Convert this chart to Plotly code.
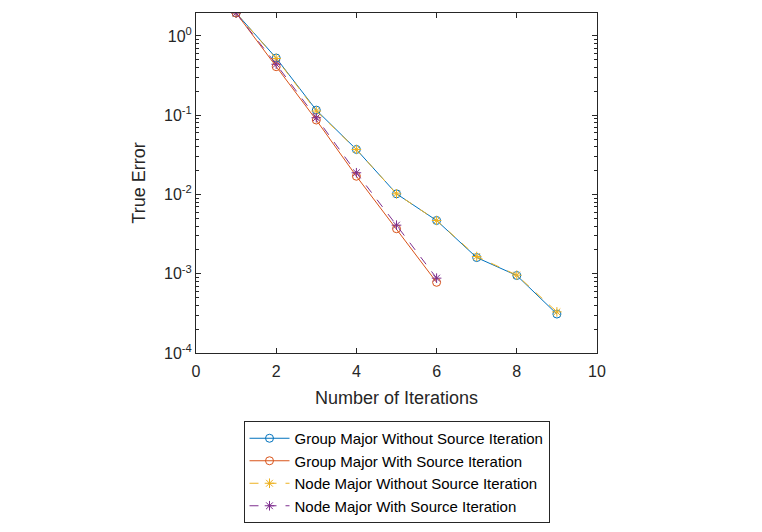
import plotly.graph_objects as go

iters_long = [1, 2, 3, 4, 5, 6, 7, 8, 9]
iters_short = [1, 2, 3, 4, 5, 6]

group_without = [1.95, 0.527, 0.116, 0.037, 0.0102, 0.0047, 0.0016, 0.00095, 0.00031]
group_with = [1.95, 0.41, 0.087, 0.017, 0.0037, 0.00078]
node_without = [1.95, 0.52, 0.113, 0.037, 0.0102, 0.0047, 0.00165, 0.00096, 0.00033]
node_with = [1.95, 0.44, 0.093, 0.0188, 0.0041, 0.00088]

names = ["Group Major Without Source Iteration", "Group Major With Source Iteration",
         "Node Major Without Source Iteration", "Node Major With Source Iteration"]
colors = ["#0072BD", "#D95319", "#EDB120", "#7E2F8E"]

y_tickvals = [1e-4, 1e-3, 1e-2, 1e-1, 1e0]
y_ticktext = ["10<sup>-4</sup>", "10<sup>-3</sup>", "10<sup>-2</sup>", "10<sup>-1</sup>", "10<sup>0</sup>"]
x_tickvals = [0, 2, 4, 6, 8, 10]

FONT = "Liberation Sans, Arial"

fig = go.Figure()
series = [
    (iters_long, group_without, "circle-open", "solid"),
    (iters_short, group_with, "circle-open", "solid"),
    (iters_long, node_without, "asterisk-open", "dash"),
    (iters_short, node_with, "asterisk-open", "dash"),
]
for (xs, ys, sym, dash), name, c in zip(series, names, colors):
    fig.add_trace(go.Scatter(
        x=xs, y=ys, name=name, mode="lines+markers",
        line=dict(color=c, width=1, dash=dash),
        marker=dict(symbol=sym, size=8, color=c, line=dict(color=c, width=1)),
    ))

axis_common = dict(
    showline=True, linecolor="#262626", linewidth=1, mirror="ticks",
    ticks="inside", ticklen=5, tickcolor="#262626", showgrid=False, zeroline=False,
    automargin=False,
    tickfont=dict(family=FONT, size=16, color="#262626"),
)

fig.update_xaxes(range=[0, 10], tickvals=x_tickvals, ticklabelstandoff=4,
                 title=dict(text="Number of Iterations", font=dict(family=FONT, size=18, color="#262626"), standoff=12),
                 **axis_common)
fig.update_yaxes(type="log", range=[-4, 0.29], tickvals=y_tickvals, ticktext=y_ticktext,
                 title=dict(text="True Error", font=dict(family=FONT, size=18, color="#262626"), standoff=13),
                 minor=dict(ticks="inside", ticklen=3, tickcolor="#262626",
                            tickvals=[m * 10 ** e for e in range(-4, 1) for m in range(2, 10)]),
                 **axis_common)

fig.update_layout(
    width=762, height=532,
    margin=dict(l=196, r=165, t=13, b=179, autoexpand=False),
    paper_bgcolor="white", plot_bgcolor="white",
    showlegend=True,
    legend=dict(x=0.5, xanchor="center", y=-0.2, yanchor="top",
                bordercolor="#262626", borderwidth=1, bgcolor="white",
                font=dict(family=FONT, size=15, color="#000000"),
                tracegroupgap=0, itemwidth=40),
)

fig.write_html("out.html")
